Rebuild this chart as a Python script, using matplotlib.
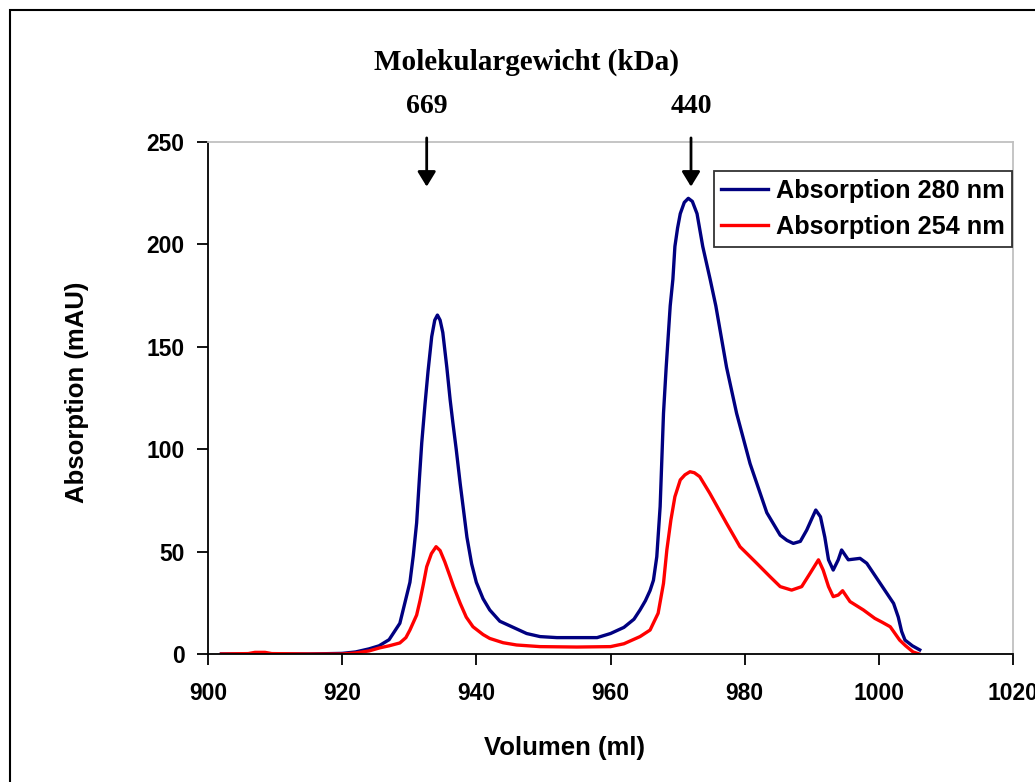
import numpy as np
import matplotlib
matplotlib.use('Agg')
import matplotlib.pyplot as plt
from matplotlib.patches import Rectangle

# Elution volume (ml) and absorption (mAU)
vol_280 = [902, 905, 910, 915, 920, 922, 924, 925.5, 927, 928.6, 929.5, 930.1, 930.6, 931.1,
           931.5, 931.86, 932.35, 932.8, 933.35, 933.8, 934.2, 934.6, 935.0, 935.6, 936.1,
           936.5, 937.0, 937.6, 938.1, 938.6, 939.3, 940, 941, 942, 943.5, 945.5, 947.5,
           949.5, 952, 955, 958, 960, 962, 963.5, 964.4, 965.2, 965.9, 966.4, 966.9, 967.4,
           967.9, 968.3, 968.9, 969.3, 969.6, 970.0, 970.4, 971.0, 971.6, 972.2, 972.9,
           973.75, 974.85, 975.7, 977.3, 978.8, 980.8, 983.3, 985.3, 986.3, 987.25, 988.3,
           989.25, 990.0, 990.6, 991.3, 991.95, 992.5, 993.2, 993.95, 994.45, 995.45, 997.2,
           998.2, 1000.2, 1002.2, 1002.9, 1003.4, 1003.9, 1005, 1006.1]
abs_280 = [0, 0, 0, 0, 0.3, 1, 2.5, 4, 7, 15, 27, 35, 48, 64,
           85, 103, 122, 138, 155, 163, 165.5, 163, 157, 140, 124,
           113, 100, 83, 70, 57, 44, 35, 27, 21.5, 16, 13, 10,
           8.5, 8, 8, 8, 10, 13, 17, 21.5, 26, 31, 36, 47.5, 72,
           117.5, 140, 170, 183, 199, 208, 215, 220.5, 222.5, 221, 215,
           199, 183, 170, 140, 117.5, 93, 69, 58, 55.5, 54, 55,
           60.5, 66, 70.3, 67, 57, 46, 41, 46, 50.8, 46, 46.7,
           44.3, 34.5, 24.7, 18, 11, 6.8, 4, 2]

vol_254 = [902, 906, 907, 908.5, 909.5, 915, 920, 922, 924, 925.6, 927, 928.6, 929.5, 930.1,
           931.1, 931.6, 932.1, 932.6, 933.3, 934.0, 934.6, 935.3, 936.1, 936.6, 937.6,
           938.5, 939.5, 941, 942, 944, 946, 949.5, 955, 960, 962, 964.4, 965.9, 967.1,
           967.9, 968.4, 969.0, 969.6, 970.4, 971.1, 971.85, 972.5, 973.3, 974.8, 977.3,
           979.3, 981.8, 983.8, 985.3, 987.0, 988.5, 989.75, 991.0, 991.7, 992.5, 993.2,
           993.95, 994.6, 995.7, 997.7, 999.4, 1000.5, 1001.7, 1003.1, 1004, 1005.1, 1006]
abs_254 = [0, 0.2, 0.8, 0.8, 0.2, 0, 0, 0.5, 1.5, 3, 4, 5.4, 8, 11.7,
           19, 26, 34, 42.6, 49, 52.4, 50.5, 45, 37.7, 33, 24.7,
           18, 13.3, 9.5, 7.6, 5.5, 4.4, 3.6, 3.4, 3.6, 5, 8.5, 11.7, 19.9,
           34.5, 50.8, 65.4, 76.8, 85, 87.5, 89, 88.5, 86.6, 78.5, 63.8,
           52.4, 44.3, 37.7, 32.9, 31.2, 32.9, 39.4, 46, 41, 32.9, 28,
           28.8, 30.9, 25.6, 21.5, 17.4, 15.5, 13.3, 6.8, 4, 1, 0]

# Marker positions (ml) and molecular weights (kDa)
marker_vol = [932.6, 972.0]
marker_kda = ['669', '440']

x_ticks = [900, 920, 940, 960, 980, 1000, 1020]
y_ticks = [0, 50, 100, 150, 200, 250]

sans = 'Liberation Sans'
serif = 'Liberation Serif'

fig = plt.figure(figsize=(10.35, 7.82), dpi=100)
ax = fig.add_axes([208/1035, 1-654/782, (1013-208)/1035, (654-142)/782])

ax.plot(vol_280, abs_280, color='#000080', lw=2.4, label='Absorption 280 nm')
ax.plot(vol_254, abs_254, color='#ff0000', lw=2.4, label='Absorption 254 nm')

ax.set_xlim(900, 1020)
ax.set_ylim(0, 250)
ax.set_xticks(x_ticks)
ax.set_yticks(y_ticks)
ax.tick_params(direction='out', length=8, width=1.3, labelsize=16.5)
ax.tick_params(axis='x', pad=12)
ax.tick_params(axis='y', pad=9)
for lab in ax.get_xticklabels() + ax.get_yticklabels():
    lab.set_fontfamily(sans)
    lab.set_fontweight('bold')

ax.spines['left'].set_linewidth(1.3)
ax.spines['bottom'].set_linewidth(1.3)
for s in ['top', 'right']:
    ax.spines[s].set_color('#c0c0c0')
    ax.spines[s].set_linewidth(1.3)

fig.text(565/1035, 1-748/782, 'Volumen (ml)', ha='center', va='center',
         fontsize=18.5, fontweight='bold', family=sans)
fig.text(77/1035, 1-392/782, 'Absorption (mAU)', ha='center', va='center', rotation=90,
         fontsize=18.5, fontweight='bold', family=sans)
fig.text(527/1035, 1-62/782, 'Molekulargewicht (kDa)', ha='center', va='center',
         fontsize=21, fontweight='bold', family=serif)

for v, k in zip(marker_vol, marker_kda):
    ax.text(v, 267.5, k, ha='center', va='center', fontsize=20, fontweight='bold',
            family=serif, clip_on=False)
    ax.annotate('', xy=(v, 228.2), xytext=(v, 252), annotation_clip=False,
                arrowprops=dict(arrowstyle='-|>,head_width=0.55,head_length=0.9',
                                color='black', lw=2.0, shrinkA=0, shrinkB=0))

leg = ax.legend(loc='upper right', bbox_to_anchor=(0.999, 1-29/512),
                prop={'family': sans, 'weight': 'bold', 'size': 18.2},
                frameon=True, fancybox=False, borderpad=0.3, handlelength=1.85,
                handletextpad=0.3, labelspacing=0.5, borderaxespad=0.0)
leg.get_frame().set_edgecolor('black')
leg.get_frame().set_linewidth(1.3)

# outer chart border
fig.patches.append(Rectangle((10/1035, -0.1), 1.2, 1-10/782+0.1, transform=fig.transFigure,
                             fill=False, edgecolor='black', lw=1.5))

fig.savefig('out.png', dpi=100)
